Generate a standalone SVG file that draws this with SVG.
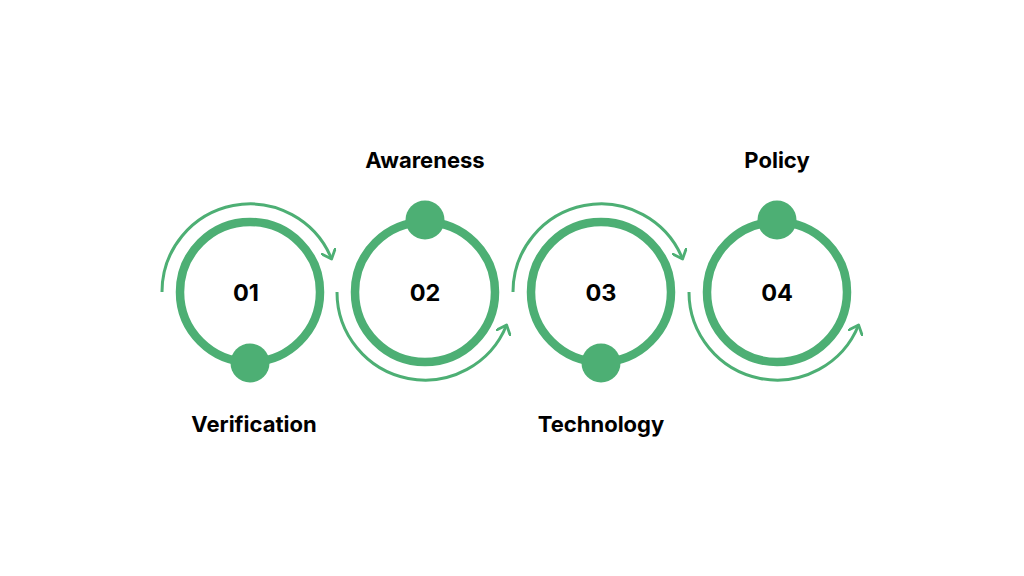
<svg xmlns="http://www.w3.org/2000/svg" width="1024" height="576" viewBox="0 0 1024 576">
  <style>
    .ring { fill: none; stroke: #4DAF74; stroke-width: 8.5; }
    .dot { fill: #4DAF74; }
    .arc { fill: none; stroke: #4DAF74; stroke-width: 3; marker-end: url(#chev); }
    .num { font-family: Inter, "Liberation Sans", sans-serif; font-weight: 700; font-size: 23.5px; fill: #000; text-anchor: middle; }
    .lbl { font-family: Inter, "Liberation Sans", sans-serif; font-weight: 700; font-size: 22px; fill: #000; text-anchor: middle; }
  </style>
  <defs>
    <marker id="chev" markerWidth="16" markerHeight="16" refX="9" refY="8" orient="auto" markerUnits="userSpaceOnUse">
      <path d="M1 1 L9 8 L1 15" fill="none" stroke="#4DAF74" stroke-width="2.8" stroke-linecap="round" stroke-linejoin="round"/>
    </marker>
  </defs>
  <rect width="1024" height="576" fill="#ffffff"/>
  <g id="connectors">
    <path class="arc" d="M162 292 A88 88 0 0 1 331.6 259"/>
    <path class="arc" d="M337 292 A88 88 0 0 0 506.6 325"/>
    <path class="arc" d="M513 292 A88 88 0 0 1 682.6 259"/>
    <path class="arc" d="M689 292 A88 88 0 0 0 858.6 325"/>
  </g>
  <g id="node1">
    <circle class="ring" cx="250" cy="292" r="70"/>
    <circle class="dot" cx="250" cy="363" r="19.5"/>
    <text class="num" x="246" y="301">01</text>
    <text class="lbl" x="254" y="432">Verification</text>
  </g>
  <g id="node2">
    <circle class="ring" cx="425" cy="292" r="70"/>
    <circle class="dot" cx="425" cy="220" r="19.5"/>
    <text class="num" x="425" y="301">02</text>
    <text class="lbl" x="425" y="168">Awareness</text>
  </g>
  <g id="node3">
    <circle class="ring" cx="601" cy="292" r="70"/>
    <circle class="dot" cx="601" cy="363" r="19.5"/>
    <text class="num" x="601" y="301">03</text>
    <text class="lbl" x="601" y="432">Technology</text>
  </g>
  <g id="node4">
    <circle class="ring" cx="777" cy="292" r="70"/>
    <circle class="dot" cx="777" cy="220" r="19.5"/>
    <text class="num" x="777" y="301">04</text>
    <text class="lbl" x="777" y="168">Policy</text>
  </g>
</svg>
